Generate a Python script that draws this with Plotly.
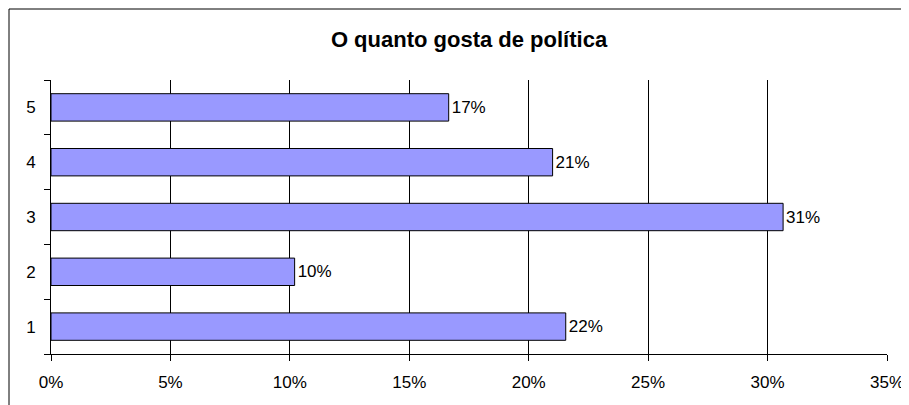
import plotly.graph_objects as go

categories = ["1", "2", "3", "4", "5"]
values = [0.2155, 0.102, 0.3065, 0.210, 0.1665]
x_ticks = [0, 0.05, 0.10, 0.15, 0.20, 0.25, 0.30, 0.35]
x_tick_labels = ["0%", "5%", "10%", "15%", "20%", "25%", "30%", "35%"]
title = "O quanto gosta de política"

# the page body has an 8px margin, so the figure is drawn at (8, 8)
OFF = 8
W, H = 909 - OFF, 405 - OFF
L, R = 51 - OFF, 909 - 887
T, B = 80 - OFF, 405 - 354
pw, ph = W - L - R, H - T - B
FONT = "Liberation Sans, Arial, sans-serif"

fig = go.Figure(go.Bar(
    x=values, y=categories, orientation="h",
    marker=dict(color="#9999FF", line=dict(color="#000000", width=1)),
    texttemplate="%{x:.0%}", textposition="outside",
    textfont=dict(family=FONT, size=17, color="#000"),
    cliponaxis=False,
))

fig.update_layout(
    width=W, height=H,
    margin=dict(l=L, r=R, t=T, b=B, pad=0),
    paper_bgcolor="white", plot_bgcolor="white",
    bargap=0.5,
    showlegend=False,
    title=dict(text="<b>" + title + "</b>", x=(L + pw / 2) / W, xanchor="center",
               y=1 - 31 / H, yanchor="middle",
               font=dict(family=FONT, size=22, color="#000")),
    font=dict(family=FONT, size=17, color="#000"),
    xaxis=dict(range=[0, 0.35], tickvals=x_ticks, ticktext=x_tick_labels,
               showgrid=True, gridcolor="#000", gridwidth=1,
               showline=True, linecolor="#000", linewidth=1,
               ticks="outside", ticklen=6, tickcolor="#000", ticklabelstandoff=7,
               zeroline=False, fixedrange=True, automargin=False),
    yaxis=dict(type="category", categoryorder="array", categoryarray=categories,
               showgrid=False, showline=True, linecolor="#000", linewidth=1,
               ticks="outside", ticklen=6, tickcolor="#000", tickson="boundaries",
               ticklabelstandoff=11, fixedrange=True, automargin=False),
)

# outer chart frame (cut off at right and bottom in the reference)
fig.add_shape(type="rect", xref="paper", yref="paper",
              x0=(9 - 51) / pw, x1=(909 + 5 - 51) / pw,
              y0=-(B + 5) / ph, y1=(354 - 9) / ph,
              line=dict(color="#000", width=1), fillcolor="rgba(0,0,0,0)", layer="above")

fig.write_html("out.html")
